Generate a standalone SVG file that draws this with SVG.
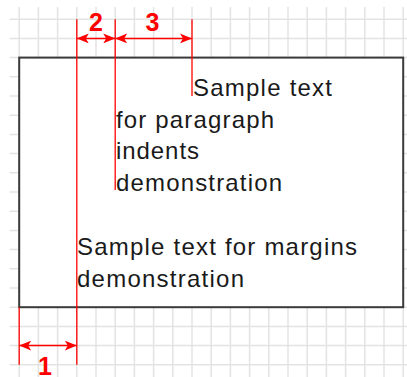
<svg xmlns="http://www.w3.org/2000/svg" width="407" height="377" viewBox="0 0 407 377">
<style>
.grid line{stroke:#e3e3e3;stroke-width:1.5}
.page{fill:#fff;stroke:#3a3a3a;stroke-width:2}
.guide{stroke:#ff0000;stroke-width:1.3;fill:none}
.dim{stroke:#ff0000;stroke-width:1.5;fill:none}
.txt{font-family:"Liberation Sans",Arial,sans-serif;font-size:24px;fill:#1a1a1a}
.lbl{font-family:"Liberation Sans",Arial,sans-serif;font-size:25px;font-weight:bold;fill:#ff0000;text-anchor:middle}
</style>
<defs>
<marker id="ah" viewBox="0 0 12 10" refX="12" refY="5" markerWidth="12" markerHeight="10" markerUnits="userSpaceOnUse" orient="auto-start-reverse">
<path d="M12,5 L0,0 L3,5 L0,10 Z" fill="#ff0000"/>
</marker>
</defs>
<rect width="407" height="377" fill="#fff"/>
<g class="grid" id="grid">
<line x1="19.2" y1="7" x2="19.2" y2="377"/>
<line x1="38.4" y1="7" x2="38.4" y2="377"/>
<line x1="57.6" y1="7" x2="57.6" y2="377"/>
<line x1="76.8" y1="7" x2="76.8" y2="377"/>
<line x1="96" y1="7" x2="96" y2="377"/>
<line x1="115.2" y1="7" x2="115.2" y2="377"/>
<line x1="134.4" y1="7" x2="134.4" y2="377"/>
<line x1="153.6" y1="7" x2="153.6" y2="377"/>
<line x1="172.8" y1="7" x2="172.8" y2="377"/>
<line x1="192" y1="7" x2="192" y2="377"/>
<line x1="211.2" y1="7" x2="211.2" y2="377"/>
<line x1="230.4" y1="7" x2="230.4" y2="377"/>
<line x1="249.6" y1="7" x2="249.6" y2="377"/>
<line x1="268.8" y1="7" x2="268.8" y2="377"/>
<line x1="288" y1="7" x2="288" y2="377"/>
<line x1="307.2" y1="7" x2="307.2" y2="377"/>
<line x1="326.4" y1="7" x2="326.4" y2="377"/>
<line x1="345.6" y1="7" x2="345.6" y2="377"/>
<line x1="364.8" y1="7" x2="364.8" y2="377"/>
<line x1="384" y1="7" x2="384" y2="377"/>
<line x1="403.2" y1="7" x2="403.2" y2="377"/>
<line x1="9.6" y1="19.2" x2="407" y2="19.2"/>
<line x1="9.6" y1="38.4" x2="407" y2="38.4"/>
<line x1="9.6" y1="57.6" x2="407" y2="57.6"/>
<line x1="9.6" y1="76.8" x2="407" y2="76.8"/>
<line x1="9.6" y1="96" x2="407" y2="96"/>
<line x1="9.6" y1="115.2" x2="407" y2="115.2"/>
<line x1="9.6" y1="134.4" x2="407" y2="134.4"/>
<line x1="9.6" y1="153.6" x2="407" y2="153.6"/>
<line x1="9.6" y1="172.8" x2="407" y2="172.8"/>
<line x1="9.6" y1="192" x2="407" y2="192"/>
<line x1="9.6" y1="211.2" x2="407" y2="211.2"/>
<line x1="9.6" y1="230.4" x2="407" y2="230.4"/>
<line x1="9.6" y1="249.6" x2="407" y2="249.6"/>
<line x1="9.6" y1="268.8" x2="407" y2="268.8"/>
<line x1="9.6" y1="288" x2="407" y2="288"/>
<line x1="9.6" y1="307.2" x2="407" y2="307.2"/>
<line x1="9.6" y1="326.4" x2="407" y2="326.4"/>
<line x1="9.6" y1="345.6" x2="407" y2="345.6"/>
<line x1="9.6" y1="364.8" x2="407" y2="364.8"/>
</g>
<g id="page">
<rect class="page" x="19.2" y="57.6" width="384" height="249.6"/>
</g>
<g id="paragraph-text" class="txt">
<text x="193" y="96" textLength="139" lengthAdjust="spacing">Sample text</text>
<text x="116" y="127.6" textLength="158" lengthAdjust="spacing">for paragraph</text>
<text x="116" y="159.3" textLength="83" lengthAdjust="spacing">indents</text>
<text x="116" y="190.8" textLength="166" lengthAdjust="spacing">demonstration</text>
</g>
<g id="margin-text" class="txt">
<text x="77" y="254.5" textLength="280" lengthAdjust="spacing">Sample text for margins</text>
<text x="77" y="286.8" textLength="167" lengthAdjust="spacing">demonstration</text>
</g>
<g id="connectors">
<line class="guide" x1="19.2" y1="307.2" x2="19.2" y2="364.8"/>
<line class="guide" x1="76.8" y1="19.2" x2="76.8" y2="364.8"/>
<line class="guide" x1="115.2" y1="19.2" x2="115.2" y2="190"/>
<line class="guide" x1="192" y1="19.2" x2="192" y2="96"/>
<line class="dim" x1="19.2" y1="345.6" x2="76.8" y2="345.6" marker-start="url(#ah)" marker-end="url(#ah)"/>
<line class="dim" x1="76.8" y1="38.4" x2="115.2" y2="38.4" marker-start="url(#ah)" marker-end="url(#ah)"/>
<line class="dim" x1="115.2" y1="38.4" x2="192" y2="38.4" marker-start="url(#ah)" marker-end="url(#ah)"/>
</g>
<g id="labels" class="lbl">
<text x="96" y="30.5">2</text>
<text x="152.5" y="30.5">3</text>
<text x="45" y="375">1</text>
</g>
</svg>
